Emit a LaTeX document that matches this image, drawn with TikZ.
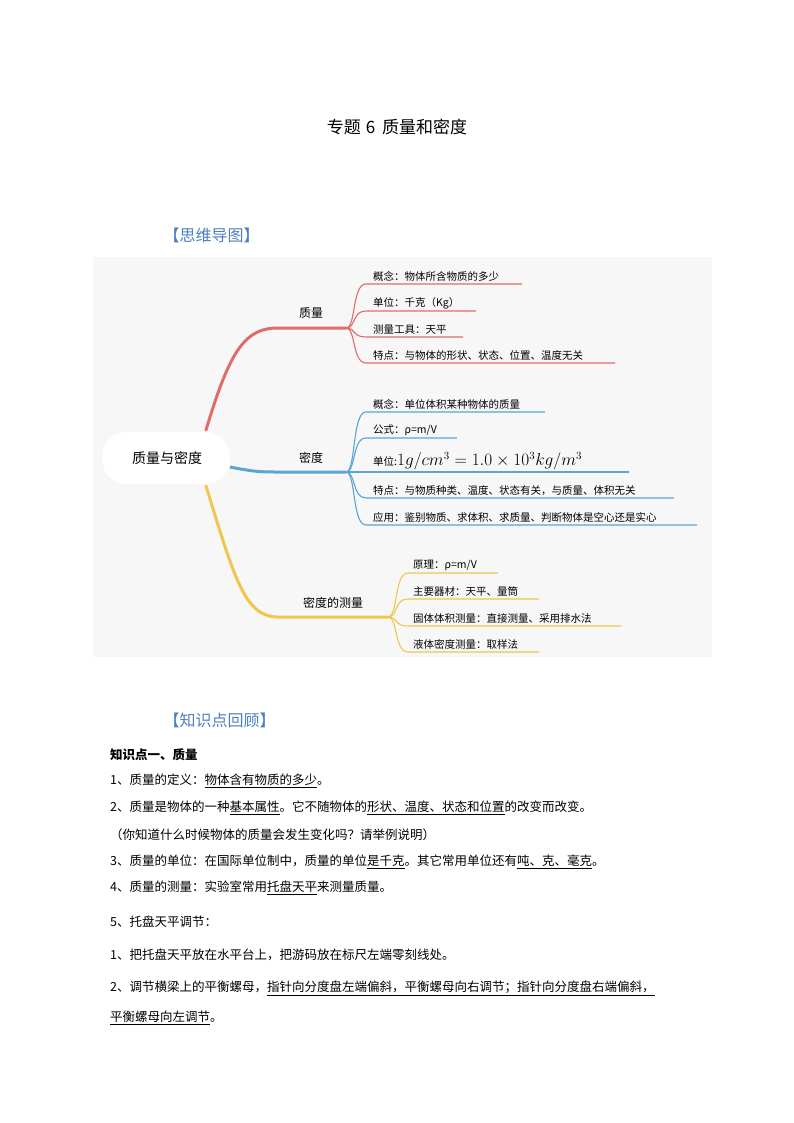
\documentclass[tikz,border=0pt]{standalone}
\usepackage{fontspec}
\setmainfont{Liberation Serif}
\newfontfamily\cjk{Noto Sans CJK SC}
\definecolor{rb}{HTML}{E06C6C}
\definecolor{bb}{HTML}{5AA5D6}
\definecolor{yb}{HTML}{F2C54E}
\definecolor{hd}{HTML}{4F7FC0}
\begin{document}
\begin{tikzpicture}[x=1pt,y=-1pt,
  mm/.style={anchor=south west,inner sep=1pt,font=\cjk\fontsize{10.5}{12}\selectfont},
  lbl/.style={font=\cjk\fontsize{12}{14}\selectfont},
  body/.style={anchor=west,inner sep=0pt,font=\cjk\fontsize{12.5}{15}\selectfont},
  sub/.style={line width=1.1pt}]
\useasboundingbox (0,0) rectangle (794,1123);
\fill[white] (0,0) rectangle (794,1123);
\node[font=\cjk\fontsize{17}{20}\selectfont] (title) at (397,127) {专题\hspace{0.3em}6\hspace{0.4em}质量和密度};
\node[anchor=west,text=hd,font=\cjk\fontsize{16}{19}\selectfont] (h1) at (160,235) {【思维导图】};
\fill[black!3] (93,257) rectangle (712,657);
% center
\fill[white,rounded corners=25pt] (102,432) rectangle (230,484);
\node[font=\cjk\fontsize{14}{16}\selectfont] (c) at (167,458) {质量与密度};
% main branches
\coordinate (ro) at (346,328); \coordinate (bo) at (346,472); \coordinate (yo) at (388,617);
\draw[rb,line width=3pt,line cap=round] (206,430) .. controls (230,350) and (245,328) .. (278,328) -- (ro);
\draw[bb,line width=3pt] (230,467) .. controls (255,472) and (262,472) .. (278,472) -- (bo);
\draw[yb,line width=3pt,line cap=round] (206,486) .. controls (235,580) and (245,617) .. (278,617) -- (yo);
\node[lbl] (l1) at (311,313) {质量};
\node[lbl] (l2) at (311,458) {密度};
\node[lbl] (l3) at (333,603) {密度的测量};
% red subs
\foreach \y/\e/\t in {284/522/概念：物体所含物质的多少,311/476/单位：千克（Kg）,337/463/测量工具：天平,363/615/特点：与物体的形状、状态、位置、温度无关}{
  \draw[rb,sub] (ro) .. controls (356,328) and (352,\y) .. (366,\y) -- (\e,\y);
  \node[mm] at (372,\y-1) {\t};}
% blue subs
\foreach \y/\e/\t in {412/545/概念：单位体积某种物体的质量,438/457/{公式：ρ=\textit{m}/\textit{V}},498/674/特点：与物质种类、温度、状态有关，与质量、体积无关,525/697/应用：鉴别物质、求体积、求质量、判断物体是空心还是实心}{
  \draw[bb,sub] (bo) .. controls (356,472) and (352,\y) .. (366,\y) -- (\e,\y);
  \node[mm] at (372,\y-1) {\t};}
\draw[bb,sub] (bo) -- (629,472);
\node[mm] at (372,471) {单位:\fontsize{16}{18}\selectfont$1g/cm^3=1.0\times10^3kg/m^3$};
% yellow subs
\foreach \y/\e/\t in {573/498/{原理：ρ=\textit{m}/\textit{V}},599/539/主要器材：天平、量筒,626/621/固体体积测量：直接测量、采用排水法,652/539/液体密度测量：取样法}{
  \draw[yb,sub] (yo) .. controls (398,617) and (394,\y) .. (408,\y) -- (\e,\y);
  \node[mm] at (412,\y-1) {\t};}
% knowledge
\node[anchor=west,text=hd,font=\cjk\fontsize{16}{19}\selectfont] (h2) at (160,720) {【知识点回顾】};
\node[body,font=\cjk\bfseries\fontsize{12.5}{15}\selectfont] (k0) at (110,755) {知识点一、质量};
\node[body] (k1) at (110,781) {1、质量的定义：\underline{物体含有物质的多少}。};
\node[body] (k2) at (110,808) {2、质量是物体的一种\underline{基本属性}。它不随物体的\underline{形状、温度、状态和位置}的改变而改变。};
\node[body] (k3) at (110,835) {（你知道什么时候物体的质量会发生变化吗？请举例说明）};
\node[body] (k4) at (110,862) {3、质量的单位：在国际单位制中，质量的单位\underline{是千克}。其它常用单位还有\underline{吨、克、毫克}。};
\node[body] (k5) at (110,888) {4、质量的测量：实验室常用\underline{托盘天平}来测量质量。};
\node[body] (k6) at (110,922) {5、托盘天平调节：};
\node[body] (k7) at (110,955) {1、把托盘天平放在水平台上，把游码放在标尺左端零刻线处。};
\node[body] (k8) at (110,988) {2、调节横梁上的平衡螺母，\underline{指针向分度盘左端偏斜，平衡螺母向右调节；指针向分度盘右端偏斜，}};
\node[body] (k9) at (110,1018) {\underline{平衡螺母向左调节}。};
\end{tikzpicture}
\end{document}
